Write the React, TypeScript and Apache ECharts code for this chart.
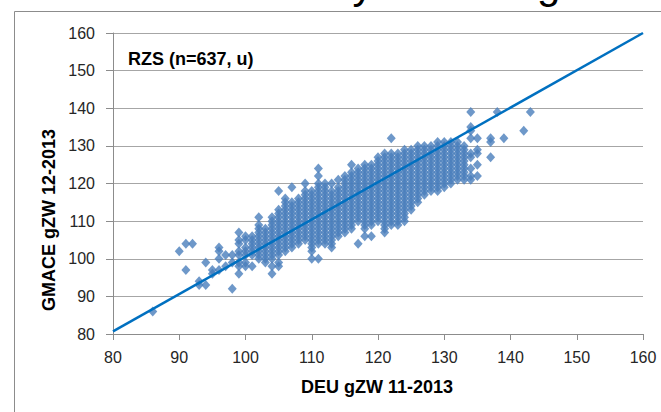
import React, { useEffect, useRef } from "react";
import * as echarts from "echarts";

// x value -> list of y values (DEU gZW 11-2013 vs GMACE gZW 12-2013)
const lowTail: [number, number[]][] = [
  [86, [86]],
  [90, [102]],
  [91, [97, 104]],
  [92, [104]],
  [93, [93, 94]],
  [94, [93, 99]],
  [95, [96, 97]],
  [96, [97, 100, 102, 103]],
  [97, [98, 101]],
  [98, [92, 99, 101]],
  [99, [96, 98, 99, 101, 102, 104, 105, 107]],
];

const coreLeft: [number, number[]][] = [
  [100, [98, 99, 101, 102, 103, 105, 106]],
  [101, [98, 101, 102, 103, 104, 105, 106]],
  [102, [100, 101, 102, 103, 104, 105, 106, 107, 108, 109, 111]],
  [103, [99, 100, 101, 102, 103, 104, 105, 106, 107, 108]],
  [104, [96, 98, 100, 101, 102, 103, 104, 105, 106, 107, 108, 109, 110, 111]],
  [105, [98, 99, 101, 102, 103, 104, 105, 106, 107, 108, 109, 110, 111, 112, 113, 118]],
  [106, [102, 103, 104, 105, 106, 107, 108, 109, 110, 111, 112, 113, 114, 115, 116]],
  [107, [103, 104, 105, 106, 107, 108, 109, 110, 111, 112, 113, 114, 115, 119]],
  [108, [104, 105, 106, 107, 108, 109, 110, 111, 112, 113, 114, 115, 116]],
  [109, [105, 106, 107, 108, 109, 110, 111, 112, 113, 114, 115, 116, 117, 118, 120]],
  [110, [100, 102, 103, 104, 105, 106, 107, 108, 109, 110, 111, 112, 113, 114, 115, 116, 117, 118]],
];

const coreMid: [number, number[]][] = [
  [111, [100, 104, 105, 106, 107, 108, 109, 110, 111, 112, 113, 114, 115, 116, 117, 118, 119, 120, 122, 124]],
  [112, [104, 105, 106, 107, 108, 109, 110, 111, 112, 113, 114, 115, 116, 117, 118, 119, 120]],
  [113, [103, 104, 105, 106, 107, 108, 109, 110, 111, 112, 113, 114, 115, 116, 117, 118, 120]],
  [114, [106, 107, 108, 109, 110, 111, 112, 113, 114, 115, 116, 117, 118, 119, 121]],
  [115, [107, 108, 109, 110, 111, 112, 113, 114, 115, 116, 117, 118, 119, 120, 121, 122]],
  [116, [108, 109, 110, 111, 112, 113, 114, 115, 116, 117, 118, 119, 120, 121, 122, 123, 125]],
  [117, [104, 110, 111, 112, 113, 114, 115, 116, 117, 118, 119, 120, 121, 122, 123, 124]],
  [118, [106, 108, 109, 110, 111, 112, 113, 114, 115, 116, 117, 118, 119, 120, 121, 122, 123, 124, 125]],
  [119, [106, 109, 110, 111, 112, 113, 114, 115, 116, 117, 118, 119, 120, 121, 122, 123, 124, 125]],
  [120, [110, 111, 112, 113, 114, 115, 116, 117, 118, 119, 120, 121, 122, 123, 124, 125, 126, 127]],
];

const coreRight: [number, number[]][] = [
  [121, [107, 108, 109, 110, 111, 112, 113, 114, 115, 116, 117, 118, 119, 120, 121, 122, 123, 124, 125, 126, 127, 128]],
  [122, [109, 110, 111, 112, 113, 114, 115, 116, 117, 118, 119, 120, 121, 122, 123, 124, 125, 126, 127, 128, 132]],
  [123, [109, 110, 111, 112, 113, 114, 115, 116, 117, 118, 119, 120, 121, 122, 123, 124, 125, 126, 127, 128]],
  [124, [110, 111, 112, 113, 114, 115, 116, 117, 118, 119, 120, 121, 122, 123, 124, 125, 126, 127, 128, 129]],
  [125, [113, 114, 115, 116, 117, 118, 119, 120, 121, 122, 123, 124, 125, 126, 127, 128, 129]],
  [126, [115, 116, 117, 118, 119, 120, 121, 122, 123, 124, 125, 126, 127, 128, 129, 130]],
  [127, [117, 118, 119, 120, 121, 122, 123, 124, 125, 126, 127, 128, 129, 130]],
  [128, [118, 119, 120, 121, 122, 123, 124, 125, 126, 127, 128, 129, 130]],
  [129, [118, 119, 120, 121, 122, 123, 124, 125, 126, 127, 128, 129, 130, 131]],
  [130, [119, 120, 121, 122, 123, 124, 125, 126, 127, 128, 129, 130, 131]],
  [131, [120, 121, 122, 123, 124, 125, 126, 127, 128, 129, 130, 131]],
  [132, [121, 122, 123, 124, 125, 126, 127, 128, 129, 130, 131]],
  [133, [121, 122, 123, 124, 125, 126, 127, 128, 129, 130]],
];

const highTail: [number, number[]][] = [
  [134, [121, 122, 124, 127, 128, 132, 134, 135, 139]],
  [135, [122, 125, 128, 129, 132]],
  [137, [127, 131, 132]],
  [138, [139]],
  [139, [132]],
  [142, [134]],
  [143, [139]],
];

// regression line end points
const fitX = [80, 160];
const fitY = [80.7, 160];

const axisMin = 80;
const axisMax = 160;
const axisStep = 10;

const titleText = "M: 637 only for changed";
const labelText = "RZS (n=637, u)";
const xTitle = "DEU gZW 11-2013";
const yTitle = "GMACE gZW 12-2013";

const FONT = "'Liberation Sans', Arial, sans-serif";

export default function App() {
  const ref = useRef<HTMLDivElement>(null);
  useEffect(() => {
    if (!ref.current) return;
    const chart = echarts.init(ref.current, undefined, { renderer: "svg" });
    const points: number[][] = [];
    [lowTail, coreLeft, coreMid, coreRight, highTail].forEach((group) =>
      group.forEach(([x, ys]) => ys.forEach((y) => points.push([x, y])))
    );
    const fit = fitX.map((x, i) => [x, fitY[i]]);
    chart.setOption({
      animation: false,
      backgroundColor: "#ffffff",
      grid: { left: 113, right: 18, top: 33, bottom: 78, containLabel: false },
      xAxis: {
        type: "value",
        min: axisMin,
        max: axisMax,
        interval: axisStep,
        axisLine: { show: true, onZero: false, lineStyle: { color: "#8c8c8c", width: 1 } },
        axisTick: { show: true, inside: false, length: 6, lineStyle: { color: "#8c8c8c" } },
        splitLine: { show: false },
        axisLabel: { fontFamily: FONT, fontSize: 16, color: "#262626", margin: 15 },
      },
      yAxis: {
        type: "value",
        min: axisMin,
        max: axisMax,
        interval: axisStep,
        axisLine: { show: true, onZero: false, lineStyle: { color: "#8c8c8c", width: 1 } },
        axisTick: { show: true, inside: false, length: 7, lineStyle: { color: "#8c8c8c" } },
        splitLine: { show: true, lineStyle: { color: "#a6a6a6", width: 1.2 } },
        axisLabel: { fontFamily: FONT, fontSize: 16, color: "#262626", margin: 18 },
      },
      series: [
        {
          type: "scatter",
          data: points,
          symbol: "diamond",
          symbolSize: [9, 10],
          itemStyle: { color: "#4a7ebb" },
          z: 2,
        },
        {
          type: "line",
          data: fit,
          symbol: "none",
          lineStyle: { color: "#0070c0", width: 2.5 },
          z: 3,
        },
      ],
      graphic: [
        {
          type: "line",
          shape: { x1: 14.5, y1: 11.5, x2: 661, y2: 11.5 },
          style: { stroke: "#8c8c8c", lineWidth: 1 },
          silent: true,
        },
        {
          type: "line",
          shape: { x1: 14.5, y1: 11.5, x2: 14.5, y2: 412 },
          style: { stroke: "#8c8c8c", lineWidth: 1 },
          silent: true,
        },
        {
          type: "text",
          x: 607,
          y: -17,
          style: {
            text: titleText,
            fontFamily: FONT,
            fontSize: 42,
            fill: "#000000",
            align: "right",
            verticalAlign: "middle",
          },
          silent: true,
        },
        {
          type: "text",
          x: 128,
          y: 59,
          style: {
            text: labelText,
            fontFamily: FONT,
            fontSize: 18,
            fontWeight: "bold",
            fill: "#000000",
            align: "left",
            verticalAlign: "middle",
          },
          silent: true,
        },
        {
          type: "text",
          x: 377,
          y: 387,
          style: {
            text: xTitle,
            fontFamily: FONT,
            fontSize: 18,
            fontWeight: "bold",
            fill: "#000000",
            align: "center",
            verticalAlign: "middle",
          },
          silent: true,
        },
        {
          type: "text",
          x: 49,
          y: 220,
          rotation: Math.PI / 2,
          style: {
            text: yTitle,
            fontFamily: FONT,
            fontSize: 18,
            fontWeight: "bold",
            fill: "#000000",
            align: "center",
            verticalAlign: "middle",
          },
          silent: true,
        },
      ],
    });
    return () => chart.dispose();
  }, []);
  return (
    <div
      ref={ref}
      style={{ position: "absolute", left: 0, top: 0, width: 661, height: 412 }}
    />
  );
}
